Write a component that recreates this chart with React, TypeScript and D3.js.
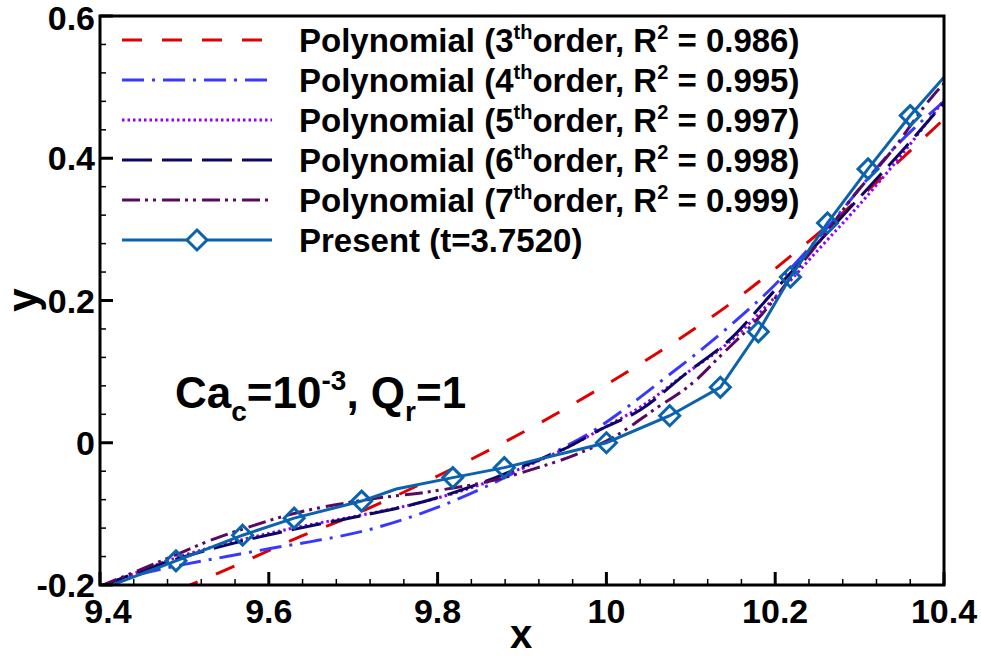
import { FC, useEffect, useRef } from "react"
import * as d3 from 'd3';

// fitted curves
const poly3X = [9.45, 9.507, 9.56, 9.633, 9.688, 9.75, 9.815, 9.9, 9.986, 10.067, 10.145, 10.221, 10.297, 10.363, 10.4]
const poly3Y = [-0.228, -0.2, -0.173, -0.134, -0.108, -0.075, -0.038, 0.014, 0.072, 0.131, 0.194, 0.265, 0.341, 0.414, 0.455]

const poly4X = [9.4, 9.43, 9.46, 9.5, 9.55, 9.6, 9.65, 9.716, 9.795, 9.862, 9.909, 9.99, 10.064, 10.146, 10.198, 10.257, 10.348, 10.4]
const poly4Y = [-0.202, -0.19, -0.181, -0.171, -0.16, -0.149, -0.139, -0.123, -0.093, -0.059, -0.031, 0.021, 0.086, 0.164, 0.22, 0.296, 0.423, 0.48]

const poly5X = [9.4, 9.5, 9.566, 9.637, 9.704, 9.783, 9.862, 9.905, 9.953, 9.992, 10.04, 10.095, 10.146, 10.2, 10.25, 10.3, 10.35, 10.4]
const poly5Y = [-0.204, -0.158, -0.137, -0.118, -0.103, -0.083, -0.054, -0.033, -0.007, 0.018, 0.05, 0.098, 0.142, 0.205, 0.27, 0.335, 0.405, 0.482]

const poly6X = [9.4, 9.495, 9.566, 9.637, 9.704, 9.783, 9.862, 9.905, 9.953, 9.992, 10.04, 10.095, 10.146, 10.2, 10.25, 10.3, 10.35, 10.4]
const poly6Y = [-0.202, -0.162, -0.139, -0.12, -0.104, -0.083, -0.052, -0.031, -0.007, 0.018, 0.046, 0.098, 0.145, 0.215, 0.28, 0.345, 0.41, 0.478]

const poly7X = [9.4, 9.479, 9.538, 9.57, 9.625, 9.716, 9.795, 9.876, 9.916, 9.963, 10.01, 10.056, 10.107, 10.135, 10.186, 10.226, 10.261, 10.285, 10.34, 10.387, 10.4]
const poly7Y = [-0.202, -0.163, -0.134, -0.121, -0.101, -0.08, -0.068, -0.05, -0.036, -0.017, 0.009, 0.046, 0.089, 0.122, 0.183, 0.244, 0.296, 0.335, 0.413, 0.488, 0.505]

// simulation result
const presentX = [9.41, 9.49, 9.569, 9.63, 9.71, 9.751, 9.818, 9.879, 10.0, 10.075, 10.135, 10.18, 10.218, 10.262, 10.31, 10.36, 10.4]
const presentY = [-0.202, -0.166, -0.13, -0.106, -0.082, -0.065, -0.049, -0.035, 0.0, 0.038, 0.078, 0.156, 0.233, 0.309, 0.385, 0.46, 0.514]
const presentMarked = [false, true, true, true, true, false, true, true, true, true, true, true, true, true, true, true, false]

const fitOrders = ["3", "4", "5", "6", "7"]
const fitR2 = ["0.986", "0.995", "0.997", "0.998", "0.999"]
const presentLabel = "Present (t=3.7520)"

const xTicks = [9.4, 9.6, 9.8, 10, 10.2, 10.4]
const yTicks = [-0.2, 0, 0.2, 0.4, 0.6]
const yTickLabels = ["-0.2", "0", "0.2", "0.4", "0.6"]
const xTickLabels = ["9.4", "9.6", "9.8", "10", "10.2", "10.4"]

const FONT = "'Liberation Sans', Arial, Helvetica, sans-serif"

const PolyChart: FC = () => {
    const svgRef = useRef<SVGSVGElement>(null)

    useEffect(() => {
        const svg = d3.select(svgRef.current)
        svg.selectAll("*").remove()

        const left = 100, right = 944, top = 16, bottom = 585
        const xScale = d3.scaleLinear().domain([9.4, 10.4]).range([left, right])
        const yScale = d3.scaleLinear().domain([-0.2, 0.6]).range([bottom, top])

        svg.append('defs').append('clipPath').attr('id', 'plotclip')
            .append('rect').attr('x', left).attr('y', top).attr('width', right - left).attr('height', bottom - top)

        const series = [
            { xs: poly3X, ys: poly3Y, color: '#e00000', dash: '20,20' },
            { xs: poly4X, ys: poly4Y, color: '#3838ff', dash: '22,8,3,8' },
            { xs: poly5X, ys: poly5Y, color: '#8f00ff', dash: '2.5,3' },
            { xs: poly6X, ys: poly6Y, color: '#0c0860', dash: '30,10' },
            { xs: poly7X, ys: poly7Y, color: '#5a0a5e', dash: '18,5,3,5,3,6' },
        ]

        const line = d3.line<[number, number]>()
            .x(d => xScale(d[0]))
            .y(d => yScale(d[1]))
            .curve(d3.curveMonotoneX)

        const plot = svg.append('g').attr('clip-path', 'url(#plotclip)')
        series.forEach(s => {
            const pts = s.xs.map((x, i) => [x, s.ys[i]] as [number, number])
            plot.append('path')
                .attr('d', line(pts))
                .attr('fill', 'none')
                .attr('stroke', s.color)
                .attr('stroke-width', 3)
                .attr('stroke-dasharray', s.dash)
        })

        // present result: straight segments with diamonds
        const presentColor = '#0b62ad'
        const presentPts = presentX.map((x, i) => [x, presentY[i]] as [number, number])
        plot.append('path')
            .attr('d', d3.line<[number, number]>().x(d => xScale(d[0])).y(d => yScale(d[1]))(presentPts))
            .attr('fill', 'none')
            .attr('stroke', presentColor)
            .attr('stroke-width', 3)
        const diamond = (cx: number, cy: number, r: number) =>
            `M${cx},${cy - r}L${cx + r},${cy}L${cx},${cy + r}L${cx - r},${cy}Z`
        svg.append('g').selectAll('path')
            .data(presentPts.filter((_, i) => presentMarked[i]))
            .join('path')
            .attr('d', d => diamond(xScale(d[0]), yScale(d[1]), 10))
            .attr('fill', 'none')
            .attr('stroke', presentColor)
            .attr('stroke-width', 3)

        // ticks (inward)
        const axes = svg.append('g').attr('stroke', '#000')
        const xMinor = d3.range(0, 26).map(i => 9.4 + i * 0.04)
        const yMinor = d3.range(0, 21).map(i => -0.2 + i * 0.04)
        xMinor.forEach(v => {
            axes.append('line').attr('x1', xScale(v)).attr('x2', xScale(v))
                .attr('y1', bottom).attr('y2', bottom - 6).attr('stroke-width', 1.5)
        })
        xTicks.forEach(v => {
            axes.append('line').attr('x1', xScale(v)).attr('x2', xScale(v))
                .attr('y1', bottom).attr('y2', bottom - 13).attr('stroke-width', 3)
        })
        yMinor.forEach(v => {
            axes.append('line').attr('x1', left).attr('x2', left + 6)
                .attr('y1', yScale(v)).attr('y2', yScale(v)).attr('stroke-width', 1.5)
        })
        yTicks.forEach(v => {
            axes.append('line').attr('x1', left).attr('x2', left + 13)
                .attr('y1', yScale(v)).attr('y2', yScale(v)).attr('stroke-width', 3)
        })
        axes.append('rect')
            .attr('x', left).attr('y', top).attr('width', right - left).attr('height', bottom - top)
            .attr('fill', 'none').attr('stroke-width', 3)

        // tick labels
        const labels = svg.append('g')
            .attr('font-family', FONT).attr('font-weight', 'bold').attr('font-size', 34).attr('fill', '#000')
        xTicks.forEach((v, i) => {
            labels.append('text')
                .attr('x', xScale(v) + (i === 0 ? 8 : 0)).attr('y', bottom + 38)
                .attr('text-anchor', 'middle').text(xTickLabels[i])
        })
        yTicks.forEach((v, i) => {
            labels.append('text')
                .attr('x', left - 5).attr('y', Math.max(yScale(v) + 12, 30))
                .attr('text-anchor', 'end').text(yTickLabels[i])
        })
        labels.append('text').attr('x', 521).attr('y', 648).attr('font-size', 40)
            .attr('text-anchor', 'middle').text('x')
        labels.append('text').attr('transform', 'translate(37,300) rotate(-90)').attr('font-size', 42)
            .attr('text-anchor', 'middle').text('y')

        // annotation
        const ann = svg.append('text')
            .attr('x', 175).attr('y', 408)
            .attr('font-family', FONT).attr('font-weight', 'bold').attr('font-size', 44)
        ann.append('tspan').text('Ca')
        ann.append('tspan').attr('font-size', 28).attr('dy', 13).text('c')
        ann.append('tspan').attr('dy', -13).text('=10')
        ann.append('tspan').attr('font-size', 28).attr('dy', -18).text('-3')
        ann.append('tspan').attr('dy', 18).text(', Q')
        ann.append('tspan').attr('font-size', 28).attr('dy', 13).text('r')
        ann.append('tspan').attr('dy', -13).text('=1')

        // legend
        const leg = svg.append('g')
        const rowY = (i: number) => 40 + i * 40
        series.forEach((s, i) => {
            leg.append('line')
                .attr('x1', 122).attr('x2', 272).attr('y1', rowY(i)).attr('y2', rowY(i))
                .attr('stroke', s.color).attr('stroke-width', 3).attr('stroke-dasharray', s.dash)
            const t = leg.append('text')
                .attr('x', 299).attr('y', rowY(i) + 12)
                .attr('font-family', FONT).attr('font-weight', 'bold').attr('font-size', 33)
            t.append('tspan').text(`Polynomial (${fitOrders[i]}`)
            t.append('tspan').attr('font-size', 20).attr('dy', -13).text('th')
            t.append('tspan').attr('dy', 13).text('order, R')
            t.append('tspan').attr('font-size', 20).attr('dy', -13).text('2')
            t.append('tspan').attr('dy', 13).text(` = ${fitR2[i]})`)
        })
        const py = rowY(5)
        leg.append('line').attr('x1', 122).attr('x2', 272).attr('y1', py).attr('y2', py)
            .attr('stroke', presentColor).attr('stroke-width', 3)
        leg.append('path').attr('d', diamond(197, py, 10))
            .attr('fill', '#fff').attr('stroke', presentColor).attr('stroke-width', 3)
        leg.append('text').attr('x', 299).attr('y', py + 12)
            .attr('font-family', FONT).attr('font-weight', 'bold').attr('font-size', 33)
            .text(presentLabel)
    }, [])

    return <svg ref={svgRef} width={981} height={659}
        style={{ position: 'absolute', left: 0, top: 0, background: '#fff' }}></svg>
}

export default function App() {
    return <PolyChart />
}
